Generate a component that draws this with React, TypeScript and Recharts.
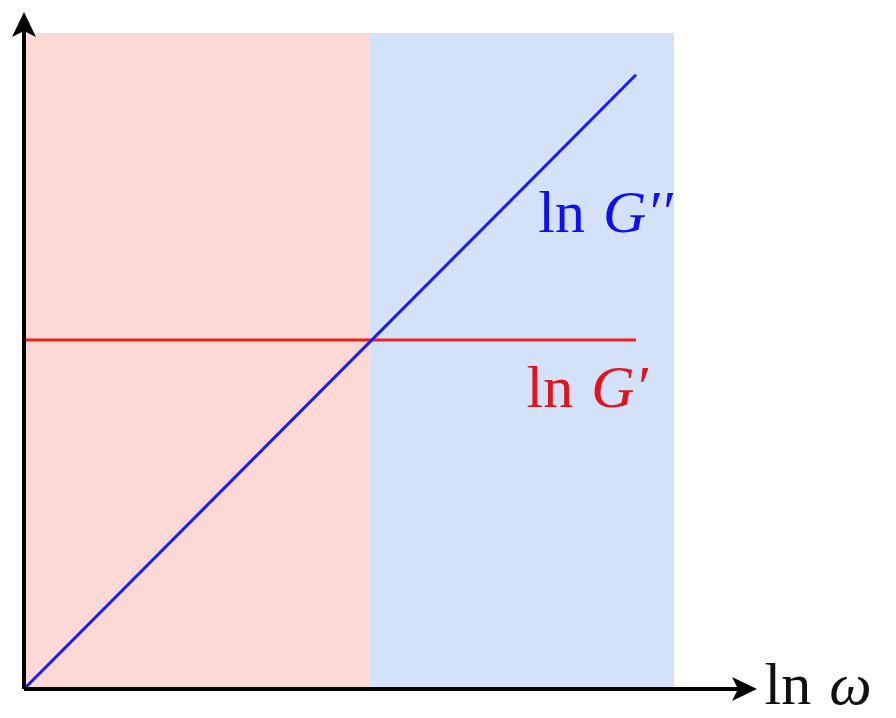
import { ComposedChart, Line, XAxis, YAxis, ReferenceArea, ReferenceDot, ReferenceLine } from "recharts";

// ln ω on x, values in arbitrary log units (crossover at 5)
const lnOmega = [0, 8.85];
const lnGPrime = [5, 5];
const lnGDoublePrime = [0, 8.8];

const viscousRegion = [0, 5];
const elasticRegion = [5, 9.4];
const regionTop = 9.4;

const xMax = 10.6;
const yMax = 9.7;

const data = lnOmega.map((w, i) => ({
  w,
  gp: lnGPrime[i],
  gpp: lnGDoublePrime[i],
}));

const FONT = "'Liberation Serif', 'DejaVu Serif', serif";

const arrowUp = ({ cx, cy }: any) => (
  <path
    d={`M${cx},${cy}L${cx - 12},${cy + 25}L${cx},${cy + 19}L${cx + 12},${cy + 25}Z`}
    fill="#000"
  />
);

const arrowRight = ({ cx, cy }: any) => (
  <path
    d={`M${cx},${cy}L${cx - 25},${cy - 12}L${cx - 19},${cy}L${cx - 25},${cy + 12}Z`}
    fill="#000"
  />
);

const mathLabel =
  (fn: string, sym: string, color: string, anchor: "start" | "end") =>
  ({ cx, cy }: any) => (
    <text x={cx} y={cy} fill={color} fontFamily={FONT} fontSize={60} textAnchor={anchor}>
      {fn}
      <tspan dx={18} fontStyle="italic">
        {sym}
      </tspan>
    </text>
  );

export default function App() {
  return (
    <div style={{ position: "absolute", left: 0, top: 0, background: "#fff" }}>
      <ComposedChart
        width={896}
        height={718}
        data={data}
        margin={{ top: 12, right: 139, bottom: 29, left: 24 }}
      >
        <XAxis dataKey="w" type="number" domain={[0, xMax]} hide />
        <YAxis type="number" domain={[0, yMax]} hide />
        <ReferenceArea
          x1={viscousRegion[0]}
          x2={viscousRegion[1]}
          y1={0}
          y2={regionTop}
          fill="#fdd9d6"
          fillOpacity={1}
          stroke="none"
        />
        <ReferenceArea
          x1={elasticRegion[0]}
          x2={elasticRegion[1]}
          y1={0}
          y2={regionTop}
          fill="#d3e2f9"
          fillOpacity={1}
          stroke="none"
        />
        <Line
          dataKey="gp"
          stroke="#e8201e"
          strokeWidth={3}
          dot={false}
          isAnimationActive={false}
        />
        <Line
          dataKey="gpp"
          stroke="#1a1aff"
          strokeWidth={3}
          dot={false}
          isAnimationActive={false}
        />
        <ReferenceLine
          segment={[{ x: 0, y: 0 }, { x: xMax - 0.2, y: 0 }]}
          stroke="#000"
          strokeWidth={4}
          ifOverflow="visible"
        />
        <ReferenceLine
          segment={[{ x: 0, y: 0 }, { x: 0, y: yMax - 0.2 }]}
          stroke="#000"
          strokeWidth={4}
          ifOverflow="visible"
        />
        <ReferenceDot x={0} y={yMax} shape={arrowUp} ifOverflow="visible" />
        <ReferenceDot x={xMax} y={0} shape={arrowRight} ifOverflow="visible" />
        <ReferenceDot x={9.38} y={6.55} shape={mathLabel("ln", "G\u2032\u2032", "#1010ee", "end")} ifOverflow="visible" />
        <ReferenceDot x={9.02} y={4.04} shape={mathLabel("ln", "G\u2032", "#e0141c", "end")} ifOverflow="visible" />
        <ReferenceDot x={10.71} y={-0.22} shape={mathLabel("ln", "\u03c9", "#111", "start")} ifOverflow="visible" />
      </ComposedChart>
    </div>
  );
}
